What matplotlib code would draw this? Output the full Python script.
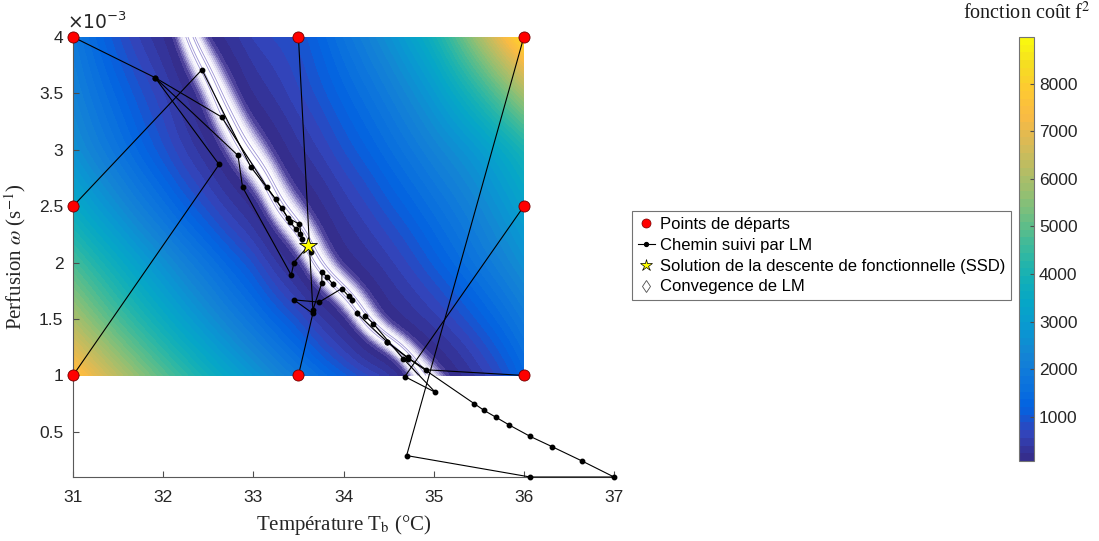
import numpy as np
import matplotlib.pyplot as plt
from matplotlib.colors import LinearSegmentedColormap
from matplotlib.lines import Line2D
from matplotlib.ticker import FormatStrFormatter

plt.rcParams['font.family'] = ['Liberation Sans', 'DejaVu Sans']

# MATLAB parula, every 4th entry of the 64-colour table
parula_rgb = [
    (0.2081, 0.1663, 0.5292), (0.1959, 0.2645, 0.7279), (0.0117, 0.3875, 0.8820),
    (0.0498, 0.4586, 0.8641), (0.0793, 0.5200, 0.8312), (0.0343, 0.5966, 0.8199),
    (0.0228, 0.6535, 0.7768), (0.0843, 0.6928, 0.7062), (0.2178, 0.7250, 0.6193),
    (0.3953, 0.7459, 0.5244), (0.5709, 0.7485, 0.4494), (0.7184, 0.7411, 0.3905),
    (0.8507, 0.7299, 0.3360), (0.9739, 0.7314, 0.2666), (0.9955, 0.7861, 0.1967),
    (0.9626, 0.8705, 0.1309), (0.9763, 0.9831, 0.0538)]
parula = LinearSegmentedColormap.from_list('parula', parula_rgb, N=256)

# cost function f^2, rows of omega (x1e-3 s^-1)
omega_rows = [1.0, 1.5, 2.0, 2.5, 3.0, 3.5, 4.0]
valley_T = [34.86, 34.22, 33.68, 33.27, 32.9, 32.58, 32.3]
T_cols = [31, 31.5, 32, 32.5, 33, 33.5, 34, 34.5, 35, 35.5, 36]
cost_w10 = [7700, 6200, 4900, 3800, 2800, 1900, 1100, 450, 20, 450, 1300]
cost_w15 = [6000, 4700, 3600, 2600, 1700, 900, 150, 150, 500, 1100, 1900]
cost_w20 = [4700, 3600, 2600, 1700, 900, 120, 150, 500, 1100, 1800, 2600]
cost_w25 = [3500, 2500, 1600, 800, 200, 50, 450, 1000, 1600, 2300, 3200]
cost_w30 = [2600, 1700, 900, 250, 10, 350, 900, 1500, 2200, 2900, 3900]
cost_w35 = [2200, 1300, 600, 30, 250, 700, 1300, 2000, 2900, 4200, 5900]
cost_w40 = [1900, 900, 250, 100, 600, 900, 1700, 2600, 3800, 5900, 8400]
cost_rows = [cost_w10, cost_w15, cost_w20, cost_w25, cost_w30, cost_w35, cost_w40]

# Levenberg-Marquardt paths (T_b in degC, omega in 1e-3 s^-1)
path1_T = [31.00, 31.91, 32.65, 33.15, 33.32, 33.41, 33.47, 33.52]
path1_w = [4.00, 3.64, 3.29, 2.67, 2.48, 2.36, 2.30, 2.25]
path2_T = [31.00, 32.43, 32.97, 33.25, 33.38, 33.51, 33.54]
path2_w = [2.50, 3.71, 2.85, 2.56, 2.40, 2.34, 2.21]
path3_T = [31.00, 32.62, 31.91, 32.83, 32.88, 33.42, 33.45, 33.61, 33.64]
path3_w = [1.00, 2.87, 3.64, 2.95, 2.67, 1.89, 2.00, 2.15, 2.09]
path4_T = [33.50, 33.66, 33.76, 33.76, 33.82, 33.88]
path4_w = [4.00, 1.58, 1.82, 1.92, 1.87, 1.81]
path5_T = [36.00, 34.70, 36.07, 37.00, 36.65, 36.31, 36.07, 35.84, 35.69, 35.56, 35.45, 34.72, 34.48]
path5_w = [4.00, 0.29, 0.10, 0.10, 0.24, 0.37, 0.46, 0.56, 0.63, 0.69, 0.75, 1.15, 1.30]
path6_T = [36.00, 34.68, 35.02, 34.66, 34.33, 34.24]
path6_w = [2.50, 0.99, 0.85, 1.15, 1.46, 1.53]
path7_T = [36.00, 34.92, 34.71, 34.48, 34.15]
path7_w = [1.00, 1.05, 1.16, 1.30, 1.55]
path8_T = [33.50, 33.66, 33.45, 33.73, 33.98, 34.06, 34.09]
path8_w = [1.00, 1.55, 1.67, 1.65, 1.77, 1.70, 1.67]
paths = [(path1_T, path1_w), (path2_T, path2_w), (path3_T, path3_w), (path4_T, path4_w),
         (path5_T, path5_w), (path6_T, path6_w), (path7_T, path7_w), (path8_T, path8_w)]

start_T = [31, 33.5, 36, 31, 36, 31, 33.5, 36]
start_w = [4, 4, 4, 2.5, 2.5, 1, 1, 1]
ssd_T = 33.61
ssd_w = 2.15


def blur(a, sig, axis):
    # gaussian smoothing, odd reflection keeps linear trends at the edges
    n = int(3 * sig)
    k = np.exp(-0.5 * (np.arange(-n, n + 1) / sig) ** 2)
    k /= k.sum()
    pad = [(0, 0), (0, 0)]
    pad[axis] = (n, n)
    ap = np.pad(a, pad, mode='reflect', reflect_type='odd')
    return np.apply_along_axis(lambda v: np.convolve(v, k, mode='valid'), axis, ap)


# build the map: signed sqrt of the cost is interpolated, smoothed, then squared
Tf = np.linspace(31, 36, 501)
wf = np.linspace(1, 4, 301)
G = []
for tv, row in zip(valley_T, cost_rows):
    tp = np.array(T_cols, float)
    g = np.sqrt(np.array(row, float)) * np.sign(tp - tv)
    tp2 = np.append(tp, tv)
    g2 = np.append(g, 0.0)
    order = np.argsort(tp2)
    G.append(np.interp(Tf, tp2[order], g2[order]))
G = np.array(G)
Gf = np.array([np.interp(wf, omega_rows, G[:, j]) for j in range(len(Tf))]).T
Gf = blur(blur(Gf, 9, 1), 12, 0)
F = Gf ** 2

fig = plt.figure(figsize=(10.99, 5.41), dpi=100)
ax = fig.add_axes([73 / 1099, 1 - 477 / 541, 541 / 1099, 440 / 541])

vmin, vmax = 70, 8980
cs = ax.contourf(Tf, wf, F, levels=np.linspace(vmin, vmax, 56), cmap=parula,
                 vmin=vmin, vmax=vmax, zorder=1)
fade_lv = [0, 14, 24, 34, 45, 57, 70, 86, 105]
fade_cols = [(1, 1, 1), (0.97, 0.96, 0.99), (0.90, 0.89, 0.96), (0.80, 0.78, 0.91),
             (0.68, 0.65, 0.85), (0.55, 0.51, 0.77), (0.42, 0.38, 0.69), (0.30, 0.26, 0.61)]
ax.contourf(Tf, wf, F, levels=fade_lv, colors=fade_cols, zorder=1.5)
ax.contour(Tf, wf, F, levels=[2, 7], colors=[(0.62, 0.58, 0.84)], linewidths=0.6, zorder=2)

for pt, pw in paths:
    ax.plot(pt, pw, '-', color='k', lw=0.8, marker='o', ms=3.2, mfc='k', mec='k',
            clip_on=False, zorder=4)

end_T = [p[0][-1] for p in paths]
end_w = [p[1][-1] for p in paths]
ax.plot(end_T, end_w, 'd', ms=3, mfc='white', mec='0.3', mew=0.5, ls='none', zorder=3)
ax.plot(start_T, start_w, 'o', ms=8, mfc='red', mec=(0.45, 0, 0), mew=0.6, ls='none',
        clip_on=False, zorder=6)
ax.plot(ssd_T, ssd_w, '*', ms=13, mfc='yellow', mec='k', mew=0.6, ls='none', zorder=7)

ax.set_xlim(31, 37)
ax.set_ylim(0.1, 4)
ax.set_xticks(range(31, 38))
ax.set_yticks(np.arange(0.5, 4.01, 0.5))
ax.yaxis.set_major_formatter(FormatStrFormatter('%g'))
ax.tick_params(direction='in', length=4, labelsize=12.5, color='0.3', labelcolor='0.15')
ax.tick_params(axis='x', pad=9)
ax.tick_params(axis='y', pad=7)
for s in ['top', 'right']:
    ax.spines[s].set_visible(False)
for s in ['left', 'bottom']:
    ax.spines[s].set_color('0.35')
    ax.spines[s].set_linewidth(0.8)

ax.text(-0.012, 1.008, r'$\times 10^{-3}$', transform=ax.transAxes, ha='left', va='bottom',
        fontsize=13.5, color='0.15', math_fontfamily='dejavusans')
ax.set_xlabel(r'Température T$_{\rm b}$ (°C)', family='Liberation Serif', fontsize=15,
              math_fontfamily='stix', color='0.15', labelpad=6)
ax.set_ylabel(r'Perfusion $\omega$ (s$^{-1}$)', family='Liberation Serif', fontsize=15,
              math_fontfamily='stix', color='0.15', labelpad=8)

# legend proxies with the sizes used in the original key
leg_handles = [
    Line2D([], [], ls='none', marker='o', ms=6.5, mfc='red', mec=(0.45, 0, 0), mew=0.5),
    Line2D([], [], color='k', lw=0.8, marker='o', ms=2.8, mfc='k', mec='k'),
    Line2D([], [], ls='none', marker='*', ms=9, mfc='yellow', mec='k', mew=0.5),
    Line2D([], [], ls='none', marker='d', ms=6, mfc='white', mec='0.3', mew=0.6)]
leg_labels = ['Points de départs', 'Chemin suivi par LM',
              'Solution de la descente de fonctionnelle (SSD)', 'Convegence de LM']
leg = fig.legend(leg_handles, leg_labels, loc='upper left',
                 bbox_to_anchor=(632 / 1099, 1 - 211 / 541),
                 fontsize=12, frameon=True, fancybox=False, edgecolor='0.45',
                 handlelength=1.0, handletextpad=0.3, labelspacing=0.35, borderpad=0.35,
                 borderaxespad=0, framealpha=1)
leg.get_frame().set_linewidth(0.8)

cax = fig.add_axes([1019 / 1099, 1 - 461 / 541, 15 / 1099, 424 / 541])
cb = fig.colorbar(cs, cax=cax, ticks=range(1000, 9000, 1000))
cb.outline.set_edgecolor('0.45')
cb.outline.set_linewidth(0.8)
cax.tick_params(direction='in', length=3, labelsize=12.5, color='0.3', labelcolor='0.15')
fig.text(1027 / 1099, 1 - 13 / 541, r'fonction coût f$^2$', ha='center', va='center',
         family='Liberation Serif', fontsize=14.5, math_fontfamily='stix', color='0.1')

plt.savefig('out.png', dpi=100)
